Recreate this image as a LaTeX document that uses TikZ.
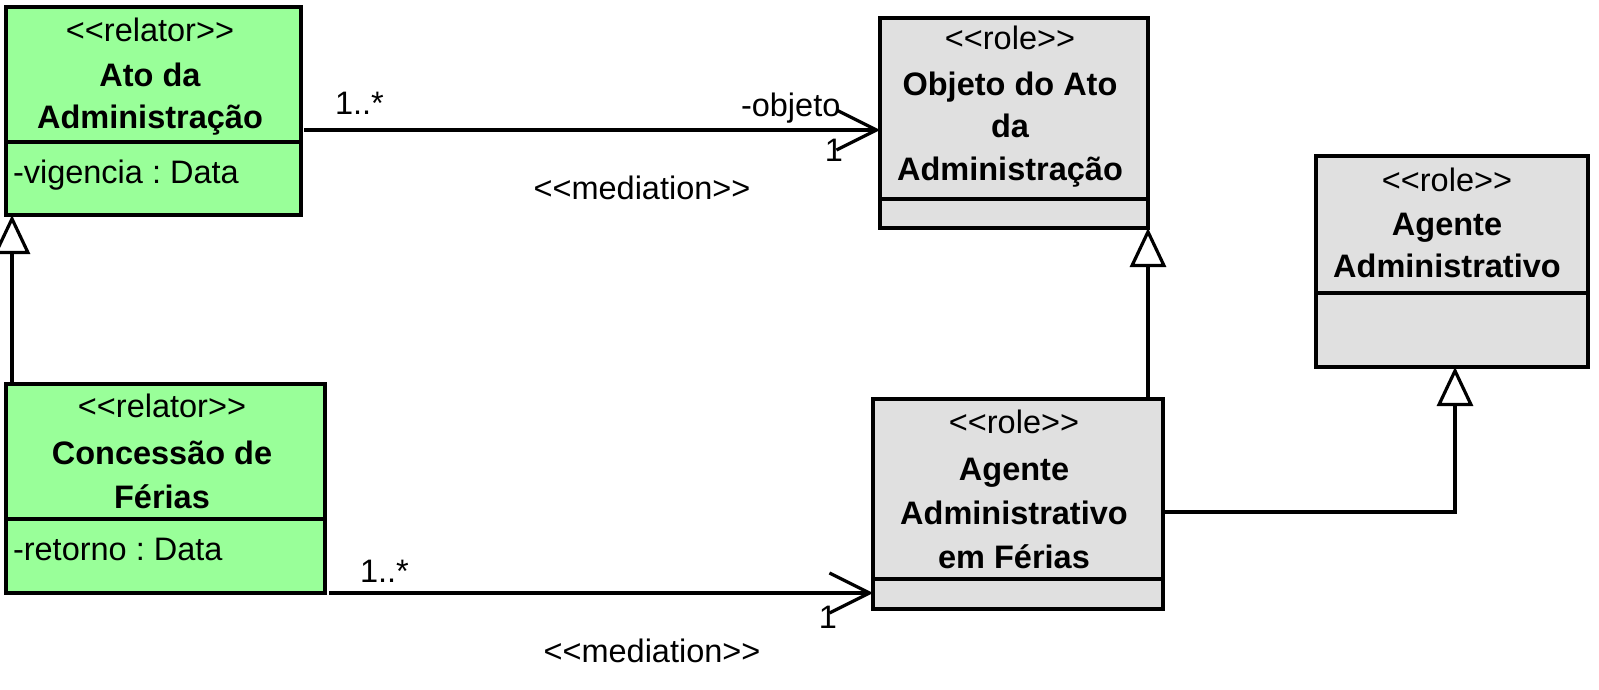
\documentclass[tikz,border=0pt]{standalone}
\usepackage{fontspec}
\setmainfont{Liberation Sans}[Ligatures=TeXOff]
\usetikzlibrary{arrows.meta}
\definecolor{relgreen}{RGB}{153,255,153}
\definecolor{rolegray}{RGB}{224,224,224}
\begin{document}
\begin{tikzpicture}[x=1pt,y=-1pt,
  txt/.style={font=\fontsize{32.5}{39}\selectfont\frenchspacing, inner sep=0pt, outer sep=0pt},
  stereo/.style={txt, anchor=base},
  cname/.style={txt, anchor=base, font=\fontsize{32.5}{39}\selectfont\bfseries\frenchspacing},
  attr/.style={txt, anchor=base west},
  classbox/.style={draw=black, line width=3.4pt, inner sep=0pt, outer sep=0pt},
  relator/.style={classbox, fill=relgreen},
  role/.style={classbox, fill=rolegray},
  divider/.style={line width=3.4pt},
  link/.style={line width=3.2pt},
  mediation/.style={link, -{Straight Barb[length=40pt,width=40pt]}},
  generalization/.style={link, -{Triangle[open,length=39pt,width=36pt,fill=white]}},
  lbl/.style={txt, anchor=base}
]
\useasboundingbox (0,0) rectangle (1599,690);

% Ato da Administracao
\node[relator, minimum width=295pt, minimum height=208pt] (ato) at (153.5,111) {};
\draw[divider] (ato.west |- 0,142) -- (ato.east |- 0,142);
\node[stereo] (atoS) at (150,42) {<<relator>>};
\node[cname] (atoN1) at (150,87) {Ato da};
\node[cname] (atoN2) at (150,129) {Administração};
\node[attr] (atoA) at (13,183) {-vigencia : Data};

% Concessao de Ferias
\node[relator, minimum width=319pt, minimum height=209pt] (conc) at (165.5,488.5) {};
\draw[divider] (conc.west |- 0,519) -- (conc.east |- 0,519);
\node[stereo] (concS) at (162,417) {<<relator>>};
\node[cname] (concN1) at (162,464) {Concessão de};
\node[cname] (concN2) at (162,508) {Férias};
\node[attr] (concA) at (13,560) {-retorno : Data};

% Objeto do Ato da Administracao
\node[role, minimum width=268pt, minimum height=210pt] (obj) at (1014,123) {};
\draw[divider] (obj.west |- 0,199) -- (obj.east |- 0,199);
\node[stereo] (objS) at (1010,50) {<<role>>};
\node[cname] (objN1) at (1010,96) {Objeto do Ato};
\node[cname] (objN2) at (1010,138) {da};
\node[cname] (objN3) at (1010,181) {Administração};

% Agente Administrativo em Ferias
\node[role, minimum width=290pt, minimum height=210pt] (agf) at (1018,504) {};
\draw[divider] (agf.west |- 0,579) -- (agf.east |- 0,579);
\node[stereo] (agfS) at (1014,433) {<<role>>};
\node[cname] (agfN1) at (1014,480) {Agente};
\node[cname] (agfN2) at (1014,524) {Administrativo};
\node[cname] (agfN3) at (1014,568) {em Férias};

% Agente Administrativo
\node[role, minimum width=272pt, minimum height=211pt] (age) at (1452,261.5) {};
\draw[divider] (age.west |- 0,293) -- (age.east |- 0,293);
\node[stereo] (ageS) at (1447,192) {<<role>>};
\node[cname] (ageN1) at (1447,235) {Agente};
\node[cname] (ageN2) at (1447,277) {Administrativo};

% mediations
\draw[mediation] ([xshift=3pt,yshift=-19pt]ato.east) -- ([yshift=-7pt]obj.west);
\node[lbl, anchor=base west] (m1a) at (335,115) {1..*};
\node[lbl, anchor=base west] (m1b) at (741,117) {-objeto};
\node[lbl] (m1c) at (834,161) {1};
\node[lbl] (m1s) at (642,200) {<<mediation>>};

\draw[mediation] ([xshift=4pt,yshift=-104.5pt]conc.east) -- ([yshift=-89pt]agf.west);
\node[lbl, anchor=base west] (m2a) at (360,582) {1..*};
\node[lbl] (m2c) at (828,628) {1};
\node[lbl] (m2s) at (652,662) {<<mediation>>};

% generalizations
\draw[generalization] ([xshift=6pt]conc.north west) -- ([xshift=6pt]ato.south west);
\draw[generalization] (agf.north -| obj.south east) -- (obj.south east);
\draw[generalization] ([yshift=-8pt]agf.east) -| ([xshift=3pt]age.south);
\end{tikzpicture}
\end{document}
